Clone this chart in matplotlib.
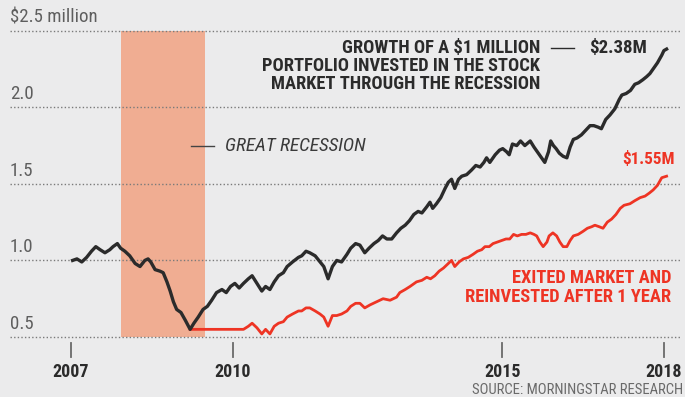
import matplotlib
matplotlib.use("Agg")
import matplotlib.pyplot as plt
from matplotlib import font_manager

# ---- data: portfolio value ($ millions) by decimal year ----
stock_years = [
    2007.03, 2007.11, 2007.20, 2007.29, 2007.38, 2007.46, 2007.54, 2007.63, 2007.72, 2007.78,
    2007.86, 2007.92, 2008.00, 2008.09, 2008.19, 2008.28, 2008.37, 2008.43, 2008.48, 2008.56,
    2008.65, 2008.71, 2008.78, 2008.84, 2008.90, 2008.96, 2009.04, 2009.12, 2009.21, 2009.28,
    2009.36, 2009.45, 2009.53, 2009.61, 2009.70, 2009.80, 2009.88, 2009.96, 2010.04, 2010.12,
    2010.20, 2010.29, 2010.36, 2010.45, 2010.54, 2010.61, 2010.69, 2010.77, 2010.85, 2010.94,
    2011.01, 2011.11, 2011.22, 2011.28, 2011.36, 2011.43, 2011.53, 2011.62, 2011.69, 2011.77,
    2011.85, 2011.93, 2012.02, 2012.12, 2012.19, 2012.28, 2012.36, 2012.45, 2012.53, 2012.62,
    2012.70, 2012.78, 2012.86, 2012.95, 2013.04, 2013.12, 2013.20, 2013.28, 2013.36, 2013.44,
    2013.51, 2013.60, 2013.66, 2013.71, 2013.78, 2013.86, 2013.94, 2014.00, 2014.06, 2014.12,
    2014.19, 2014.25, 2014.34, 2014.43, 2014.51, 2014.59, 2014.66, 2014.71, 2014.77, 2014.87,
    2014.95, 2015.01, 2015.08, 2015.13, 2015.19, 2015.27, 2015.34, 2015.42, 2015.52, 2015.59,
    2015.65, 2015.73, 2015.79, 2015.86, 2015.90, 2015.95, 2016.00, 2016.06, 2016.13, 2016.20,
    2016.26, 2016.32, 2016.39, 2016.47, 2016.55, 2016.63, 2016.70, 2016.78, 2016.84, 2016.92,
    2017.00, 2017.09, 2017.17, 2017.22, 2017.30, 2017.38, 2017.46, 2017.53, 2017.61, 2017.68,
    2017.74, 2017.80, 2017.88, 2017.96, 2018.00, 2018.05,
]
stock_values = [
    1.00, 1.01, 0.99, 1.02, 1.06, 1.09, 1.07, 1.05, 1.07, 1.09,
    1.11, 1.08, 1.06, 1.03, 0.98, 0.96, 1.00, 1.01, 0.99, 0.94,
    0.93, 0.92, 0.86, 0.80, 0.73, 0.68, 0.66, 0.61, 0.55, 0.59,
    0.63, 0.68, 0.70, 0.74, 0.79, 0.81, 0.79, 0.83, 0.85, 0.82,
    0.85, 0.88, 0.90, 0.85, 0.80, 0.83, 0.81, 0.86, 0.90, 0.92,
    0.96, 0.99, 1.02, 1.03, 1.06, 1.05, 1.03, 0.99, 0.96, 0.88,
    0.96, 1.00, 0.99, 1.04, 1.08, 1.11, 1.10, 1.05, 1.08, 1.11,
    1.13, 1.16, 1.14, 1.14, 1.18, 1.21, 1.23, 1.26, 1.30, 1.32,
    1.31, 1.35, 1.38, 1.34, 1.37, 1.41, 1.47, 1.51, 1.53, 1.47,
    1.53, 1.55, 1.56, 1.59, 1.62, 1.61, 1.64, 1.67, 1.64, 1.69,
    1.72, 1.73, 1.71, 1.69, 1.76, 1.75, 1.78, 1.75, 1.78, 1.74,
    1.71, 1.67, 1.64, 1.71, 1.78, 1.75, 1.73, 1.70, 1.68, 1.67,
    1.74, 1.79, 1.80, 1.82, 1.85, 1.88, 1.88, 1.87, 1.86, 1.92,
    1.95, 1.99, 2.05, 2.08, 2.09, 2.11, 2.15, 2.16, 2.18, 2.20,
    2.22, 2.25, 2.29, 2.34, 2.37, 2.38,
]

reinvest_years = [
    2009.21, 2010.20, 2010.29, 2010.36, 2010.45, 2010.54, 2010.61, 2010.69, 2010.77, 2010.85,
    2010.94, 2011.01, 2011.11, 2011.22, 2011.28, 2011.36, 2011.43, 2011.53, 2011.62, 2011.69,
    2011.77, 2011.85, 2011.93, 2012.02, 2012.12, 2012.19, 2012.28, 2012.36, 2012.45, 2012.55,
    2012.67, 2012.79, 2012.92, 2013.04, 2013.10, 2013.20, 2013.29, 2013.41, 2013.51, 2013.60,
    2013.67, 2013.75, 2013.83, 2013.91, 2014.00, 2014.06, 2014.12, 2014.20, 2014.28, 2014.37,
    2014.46, 2014.54, 2014.62, 2014.68, 2014.76, 2014.83, 2014.91, 2014.99, 2015.07, 2015.14,
    2015.21, 2015.28, 2015.36, 2015.44, 2015.52, 2015.59, 2015.64, 2015.70, 2015.76, 2015.83,
    2015.87, 2015.94, 2016.01, 2016.07, 2016.13, 2016.20, 2016.26, 2016.32, 2016.41, 2016.50,
    2016.58, 2016.66, 2016.72, 2016.80, 2016.87, 2016.95, 2017.03, 2017.11, 2017.19, 2017.26,
    2017.37, 2017.46, 2017.56, 2017.65, 2017.73, 2017.80, 2017.88, 2017.96, 2018.05,
]
reinvest_values = [
    0.55, 0.55, 0.57, 0.59, 0.56, 0.52, 0.55, 0.52, 0.57, 0.59,
    0.60, 0.63, 0.65, 0.67, 0.67, 0.69, 0.69, 0.67, 0.65, 0.63,
    0.57, 0.64, 0.64, 0.65, 0.67, 0.70, 0.72, 0.72, 0.69, 0.71,
    0.73, 0.75, 0.74, 0.76, 0.79, 0.81, 0.83, 0.86, 0.87, 0.89,
    0.88, 0.90, 0.93, 0.95, 0.98, 1.00, 0.96, 0.99, 1.01, 1.02,
    1.04, 1.06, 1.07, 1.09, 1.09, 1.11, 1.12, 1.13, 1.14, 1.14,
    1.17, 1.16, 1.17, 1.17, 1.18, 1.17, 1.16, 1.12, 1.09, 1.12,
    1.16, 1.18, 1.16, 1.12, 1.09, 1.09, 1.13, 1.16, 1.17, 1.19,
    1.21, 1.22, 1.23, 1.22, 1.21, 1.25, 1.27, 1.30, 1.34, 1.36,
    1.37, 1.39, 1.41, 1.42, 1.44, 1.46, 1.49, 1.54, 1.55,
]

recession_span = [2007.92, 2009.49]
grid_values = [0.5, 1.0, 1.5, 2.0, 2.5]
grid_labels = ["0.5", "1.0", "1.5", "2.0", "$2.5 million"]
year_ticks = [2007, 2010, 2015, 2018]
stock_final_label = "$2.38M"
reinvest_final_label = "$1.55M"

# ---- styling ----
BG = "#ebebec"
INK = "#2b2b2b"
GREY = "#5e5e5e"
RED = "#ee3424"
SHADE = "#f0ad92"


def pick_narrow_font():
    """Find a condensed sans family; return (family, stretch, found)."""
    entries = font_manager.fontManager.ttflist
    names = {f.name for f in entries}
    for fam in ["Roboto Condensed", "Liberation Sans Narrow", "Open Sans Condensed",
                "Noto Sans Condensed", "DejaVu Sans Condensed", "Arial Narrow",
                "Noto Sans SemiCondensed"]:
        if fam in names:
            return fam, "normal", True
    for fam in ["Roboto", "Noto Sans", "Open Sans", "DejaVu Sans", "Inter", "Lato"]:
        for f in entries:
            if f.name == fam and str(f.stretch) in ("condensed", "semi-condensed",
                                                    "extra-condensed"):
                return fam, str(f.stretch), True
    for f in entries:
        low = f.name.lower()
        if "condensed" in low or "narrow" in low:
            return f.name, "normal", True
    return "DejaVu Sans", "normal", False


FAMILY, STRETCH, NARROW_OK = pick_narrow_font()
plt.rcParams["font.family"] = [FAMILY, "DejaVu Sans"]
plt.rcParams["font.stretch"] = STRETCH
# a full-width face needs smaller type to keep the same line lengths
S = 1.0 if NARROW_OK else 0.82

W, H = 685, 397
fig = plt.figure(figsize=(W / 100, H / 100), dpi=100, facecolor=BG)
ax = fig.add_axes([0, 0, 1, 1])
ax.set_facecolor(BG)

# pixel-based frame: year 2007 at x=71, 53.9 px per year; 0.5 at y=337, 153.15 px per unit
PX_YEAR, X0 = 53.9, 71
PX_UNIT, Y0 = 153.15, 337
ax.set_xlim(2007 - X0 / PX_YEAR, 2007 + (W - X0) / PX_YEAR)
ax.set_ylim(0.5 - (H - Y0) / PX_UNIT, 0.5 + Y0 / PX_UNIT)
ax.axis("off")


def px(x, y):
    """pixel (from top-left) -> data coordinates"""
    return 2007 + (x - X0) / PX_YEAR, 0.5 + (Y0 - y) / PX_UNIT


# recession band (from the 0.5 line to the top line)
ax.fill_between(recession_span, [grid_values[0]] * 2, [grid_values[-1]] * 2,
                color=SHADE, lw=0, zorder=1)

# dotted gridlines and their labels
xl, _ = px(10, 0)
xr, _ = px(681, 0)
for v, lab in zip(grid_values, grid_labels):
    ax.plot([xl, xr], [v, v], ls=(0, (1, 1.6)), color="#7a7a7a", lw=1.0, zorder=2)
    ax.text(xl, v + 13 / PX_UNIT, lab, ha="left", va="center",
            fontsize=13.6 * S, color=GREY, zorder=3)

# year ticks and labels
_, ty0 = px(0, 343)
_, ty1 = px(0, 357)
_, tl = px(0, 372)
for yr in year_ticks:
    ax.plot([yr, yr], [ty0, ty1], color="#6a6a6a", lw=1.3, zorder=2)
    ax.text(yr, tl, str(yr), ha="center", va="center", fontsize=13 * S,
            fontweight="bold", color=INK)

# series
ax.plot(reinvest_years, reinvest_values, color=RED, lw=2.0, zorder=4,
        solid_joinstyle="round")
ax.plot(stock_years, stock_values, color=INK, lw=2.4, zorder=5,
        solid_joinstyle="round")

# title block for the stock line
title_lines = ["GROWTH OF A $1 MILLION",
               "PORTFOLIO INVESTED IN THE STOCK",
               "MARKET THROUGH THE RECESSION"]
for i, line in enumerate(title_lines):
    x, y = px(540, 48 + 18 * i)
    ax.text(x, y, line, ha="right", va="center", fontsize=13.3 * S,
            fontweight="bold", color=INK)
a, b = px(551, 48)
c, _ = px(574, 48)
ax.plot([a, c], [b, b], color=INK, lw=1.0)
x, y = px(589, 48)
ax.text(x, y, stock_final_label, ha="left", va="center", fontsize=13.6 * S,
        fontweight="bold", color=INK)

# recession callout
a, b = px(191, 146)
c, _ = px(214, 146)
ax.plot([a, c], [b, b], color="#444444", lw=1.0, zorder=3)
x, y = px(225, 146)
ax.text(x, y, "GREAT RECESSION", ha="left", va="center", fontsize=13.9 * S,
        style="italic", color="#3a3a3a", zorder=3)

# reinvested line labels
x, y = px(675, 159)
ax.text(x, y, reinvest_final_label, ha="right", va="center", fontsize=12.3 * S,
        fontweight="bold", color=RED)
for i, line in enumerate(["EXITED MARKET AND", "REINVESTED AFTER 1 YEAR"]):
    x, y = px(671, 278 + 19 * i)
    ax.text(x, y, line, ha="right", va="center", fontsize=13.3 * S,
            fontweight="bold", color=RED)

# source note
x, y = px(683, 389.5)
ax.text(x, y, "SOURCE: MORNINGSTAR RESEARCH", ha="right", va="center",
        fontsize=10.6 * S, color="#6a6a6a")

# year labels near the right edge stay inside the canvas
fig.canvas.draw()
rend = fig.canvas.get_renderer()
for t in ax.texts:
    bb = t.get_window_extent(rend)
    if bb.x1 > W - 1 and t.get_ha() == "center":
        t.set_ha("right")
        t.set_x(px(W - 2, 0)[0])

fig.savefig("out.png", dpi=100, facecolor=BG)
